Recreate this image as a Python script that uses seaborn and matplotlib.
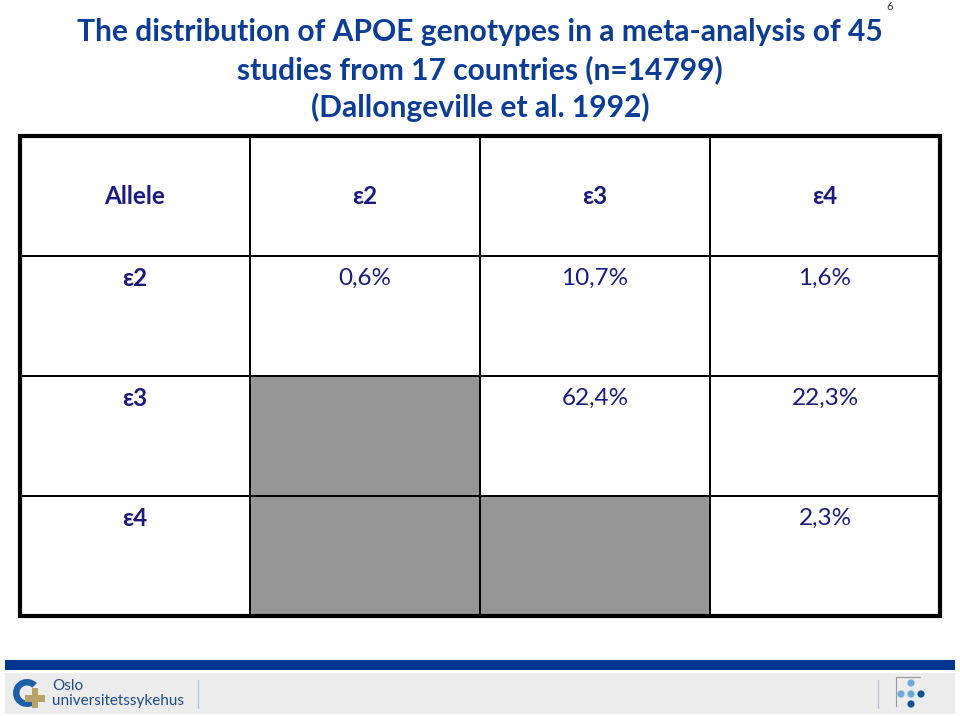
import numpy as np
import pandas as pd
import matplotlib.pyplot as plt
import seaborn as sns
from matplotlib.colors import ListedColormap
from matplotlib.patches import Rectangle, Wedge, Circle

# ── Data ────────────────────────────────────────────────────
alleles = ["ε2", "ε3", "ε4"]
genotype_pct = [
    ["0,6%", "10,7%", "1,6%"],
    ["", "62,4%", "22,3%"],
    ["", "", "2,3%"],
]
# 1 = grey (duplicate half of the symmetric table)
shaded = [
    [0, 0, 0, 0],
    [0, 0, 0, 0],
    [0, 1, 0, 0],
    [0, 1, 1, 0],
]

TITLE_BLUE = "#0B3C96"
NAVY = "#1A1A80"
GREY = "#969696"
FONT = ["Lato", "DejaVu Sans"]

sns.set_theme(style="white")
plt.rcParams['font.family'] = FONT

fig = plt.figure(figsize=(9.6, 7.16), dpi=100)
fig.patch.set_facecolor("white")

ax = fig.add_axes([20 / 960, 100 / 716, 920 / 960, 480 / 716])
grid = pd.DataFrame(shaded)
sns.heatmap(grid, ax=ax, cmap=ListedColormap(["white", GREY]), cbar=False,
            linewidths=1.3, linecolor="black", vmin=0, vmax=1,
            xticklabels=False, yticklabels=False)
ax.add_patch(Rectangle((0, 0), 4, 4, fill=False, edgecolor="black",
                       linewidth=3, clip_on=False))

# header row
ax.text(0.5, 0.5, "Allele", ha="center", va="center", fontsize=17.5,
        fontweight="bold", color=NAVY)
for j, a in enumerate(alleles):
    ax.text(j + 1.5, 0.5, a, ha="center", va="center", fontsize=17.5,
            fontweight="bold", color=NAVY)
# body rows
for i, a in enumerate(alleles):
    ax.text(0.5, i + 1.19, a, ha="center", va="center", fontsize=17.5,
            fontweight="bold", color=NAVY)
    for j, v in enumerate(genotype_pct[i]):
        if v:
            ax.text(j + 1.5, i + 1.19, v, ha="center", va="center",
                    fontsize=17.5, color=NAVY)

# title
title_lines = ["The distribution of APOE genotypes in a meta-analysis of 45",
               "studies from 17 countries (n=14799)",
               "(Dallongeville et al. 1992)"]
for y, line in zip([32, 70, 107], title_lines):
    fig.text(0.5, 1 - y / 716, line, ha="center", va="center", fontsize=21.6,
             fontweight="bold", color=TITLE_BLUE)
fig.text(890 / 960, 1 - 7 / 716, "6", ha="center", va="center", fontsize=8, color="#333333")

# footer
fax = fig.add_axes([0, 0, 1, 60 / 716])
fax.set_xlim(0, 960)
fax.set_ylim(60, 0)
fax.axis("off")
fax.add_patch(Rectangle((5, 4), 950, 10, facecolor="#003591", edgecolor="none"))
fax.add_patch(Rectangle((5, 17), 950, 41, facecolor="#ECECEC", edgecolor="none"))
fax.add_patch(Wedge((27, 37), 14, 45, 315, width=6.5, facecolor="#1E5FA8", edgecolor="none"))
fax.add_patch(Rectangle((25, 39), 20, 6.5, facecolor="#B8A266", edgecolor="none"))
fax.add_patch(Rectangle((31.8, 32), 6.5, 20, facecolor="#B8A266", edgecolor="none"))
fax.text(52, 30, "Oslo", fontsize=11, color="#1E4A8A", va="center", ha="left")
fax.text(52, 45, "universitetssykehus", fontsize=11, color="#1E4A8A", va="center", ha="left")
fax.plot([198, 198], [24, 52], color="#B8C4D8", lw=1)
fax.plot([878, 878], [24, 52], color="#B8C4D8", lw=1)
fax.plot([896, 896, 920], [50, 21, 21], color="#999999", lw=0.8)
for (x, y, c) in [(911, 27, "#6FA8DC"), (901, 38, "#6FA8DC"), (911, 38, "#6FA8DC"),
                  (921, 38, "#10519A"), (911, 48, "#10519A")]:
    fax.add_patch(Circle((x, y), 3.6, facecolor=c, edgecolor="none"))

fig.savefig("out.png", dpi=100, facecolor="white")
